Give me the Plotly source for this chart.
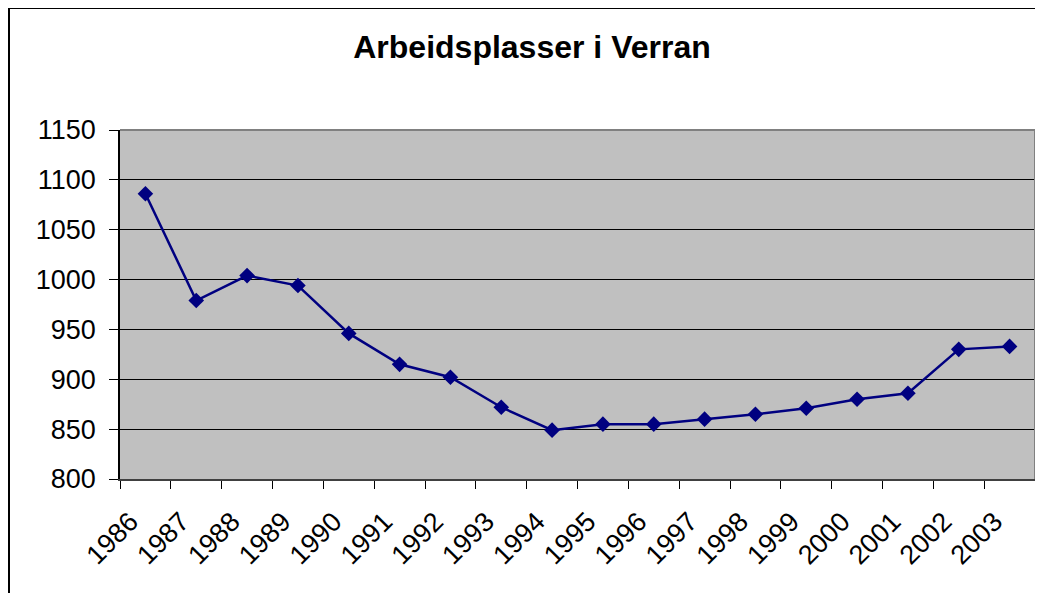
import plotly.graph_objects as go

years = ["1986", "1987", "1988", "1989", "1990", "1991", "1992", "1993", "1994",
         "1995", "1996", "1997", "1998", "1999", "2000", "2001", "2002", "2003"]
jobs = [1086, 979, 1004, 994, 946, 915, 902, 872, 849,
        855, 855, 860, 865, 871, 880, 886, 930, 933]
y_ticks = [800, 850, 900, 950, 1000, 1050, 1100, 1150]

# page puts the figure at an 8px offset
OFF = 8
W, H = 1043 - OFF, 593 - OFF
L, T = 120 - OFF, 130 - OFF
R = W - (1035 - OFF)
B = H - (479 - OFF)

fig = go.Figure()
fig.add_trace(go.Scatter(
    x=years, y=jobs, mode="lines+markers",
    line=dict(color="#000080", width=2.5),
    marker=dict(symbol="diamond", size=12, color="#000080"),
    showlegend=False, hoverinfo="x+y"))

font = "Liberation Sans, Arial, sans-serif"

def px_to_paper_x(p):
    return (p - OFF - L) / (W - L - R)

def px_to_paper_y(p):
    return (H - B - (p - OFF)) / (H - T - B)

shapes = [
    dict(type="line", xref="paper", yref="paper", x0=0, x1=1, y0=1, y1=1,
         line=dict(color="#808080", width=2), layer="above"),
    dict(type="line", xref="paper", yref="paper", x0=1, x1=1, y0=0, y1=1,
         line=dict(color="#808080", width=2), layer="above"),
    dict(type="line", xref="paper", yref="paper",
         x0=px_to_paper_x(9), x1=px_to_paper_x(9),
         y0=px_to_paper_y(8), y1=px_to_paper_y(600),
         line=dict(color="black", width=2)),
    dict(type="line", xref="paper", yref="paper",
         x0=px_to_paper_x(9), x1=px_to_paper_x(1050),
         y0=px_to_paper_y(8), y1=px_to_paper_y(8),
         line=dict(color="black", width=2)),
]

fig.update_layout(
    width=W, height=H,
    margin=dict(l=L, r=R, t=T, b=B, pad=0),
    paper_bgcolor="white", plot_bgcolor="#C0C0C0",
    font=dict(family=font, color="black"),
    title=dict(text="<b>Arbeidsplasser i Verran</b>", x=(532 - OFF) / W, xanchor="center",
               y=1 - (47 - OFF) / H, yanchor="middle", xref="container", yref="container",
               font=dict(size=32, family=font, color="black")),
    xaxis=dict(type="category", tickson="boundaries", ticks="outside", ticklen=8,
               tickcolor="black", tickwidth=1, tickangle=-45,
               tickfont=dict(size=27, family=font),
               ticklabelstandoff=14, ticklabelshift=-15,
               showgrid=False, showline=True, linecolor="#404040", linewidth=2,
               range=[-0.5, len(years) - 0.5], zeroline=False, fixedrange=True),
    yaxis=dict(range=[800, 1150], tickvals=y_ticks, ticks="outside", ticklen=9,
               tickcolor="black", tickwidth=1, tickfont=dict(size=27, family=font),
               showgrid=True, gridcolor="black", gridwidth=1,
               showline=True, linecolor="black", linewidth=1.5,
               zeroline=False, ticklabelstandoff=8, fixedrange=True),
    shapes=shapes,
)

fig.write_html("out.html")
